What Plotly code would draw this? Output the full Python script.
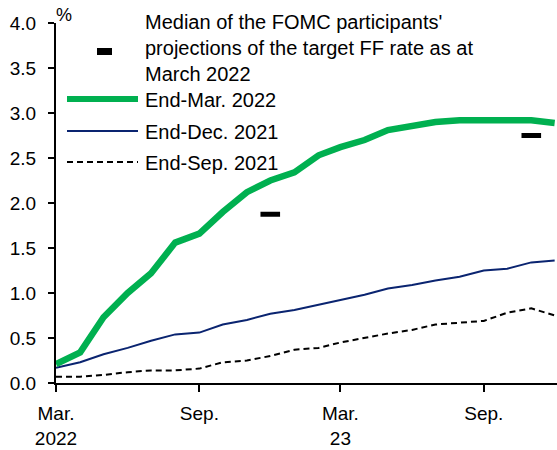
import plotly.graph_objects as go

# ---- data ----
months = ["2022-03-01", "2022-04-01", "2022-05-01", "2022-06-01", "2022-07-01", "2022-08-01",
          "2022-09-01", "2022-10-01", "2022-11-01", "2022-12-01", "2023-01-01", "2023-02-01",
          "2023-03-01", "2023-04-01", "2023-05-01", "2023-06-01", "2023-07-01", "2023-08-01",
          "2023-09-01", "2023-10-01", "2023-11-01", "2023-12-01"]
end_mar_2022 = [0.21, 0.34, 0.73, 1.00, 1.22, 1.56, 1.66, 1.90, 2.12, 2.25, 2.34, 2.53,
                2.62, 2.70, 2.81, 2.86, 2.90, 2.92, 2.92, 2.92, 2.92, 2.89]
end_dec_2021 = [0.17, 0.23, 0.32, 0.39, 0.47, 0.54, 0.56, 0.65, 0.70, 0.77, 0.81, 0.87,
                0.92, 0.98, 1.05, 1.09, 1.14, 1.18, 1.25, 1.27, 1.34, 1.36]
end_sep_2021 = [0.07, 0.07, 0.09, 0.12, 0.14, 0.14, 0.16, 0.23, 0.25, 0.30, 0.37, 0.39,
                0.45, 0.50, 0.55, 0.59, 0.65, 0.67, 0.69, 0.78, 0.83, 0.75]
median_dates = ["2022-12-01", "2023-11-01"]
median_values = [1.875, 2.75]

tick_dates = ["2022-03-01", "2022-09-01", "2023-03-01", "2023-09-01"]
tick_labels = ["Mar.<br>2022", "Sep.", "Mar.<br>23", "Sep."]
y_ticks = [0.0, 0.5, 1.0, 1.5, 2.0, 2.5, 3.0, 3.5, 4.0]

legend_median = "Median of the FOMC participants'<br>projections of the target FF rate as at<br>March 2022"
name_mar = "End-Mar. 2022"
name_dec = "End-Dec. 2021"
name_sep = "End-Sep. 2021"

GREEN = "#00b050"
NAVY = "#0a2470"
FONT = "Liberation Sans, Arial, sans-serif"

W, H = 557, 450
ML, MR, MT, MB = 56, 0, 23, 67
PW, PH = W - ML - MR, H - MT - MB


def px(x):
    return (x - ML) / PW


def py(y):
    return (H - MB - y) / PH


fig = go.Figure()
fig.add_trace(go.Scatter(x=months, y=end_sep_2021, mode="lines", name=name_sep,
                         line=dict(color="black", width=2, dash="6px,4px")))
fig.add_trace(go.Scatter(x=months, y=end_dec_2021, mode="lines", name=name_dec,
                         line=dict(color=NAVY, width=2)))
fig.add_trace(go.Scatter(x=months, y=end_mar_2022, mode="lines", name=name_mar,
                         line=dict(color=GREEN, width=6.5)))
fig.add_trace(go.Scatter(x=median_dates, y=median_values, mode="markers", name="Median",
                         marker=dict(symbol="line-ew", size=14,
                                     line=dict(color="black", width=5))))

# ---- legend (drawn manually) ----
shapes = []
annotations = []
shapes.append(dict(type="rect", xref="paper", yref="paper",
                   x0=px(97), x1=px(112), y0=py(55), y1=py(48),
                   fillcolor="black", line=dict(width=0)))
annotations.append(dict(xref="paper", yref="paper", x=px(143), y=py(48),
                        xanchor="left", yanchor="middle", align="left",
                        text=legend_median, showarrow=False,
                        font=dict(size=20, color="black", family=FONT)))
rows = [(name_mar, 99, dict(color=GREEN, width=6)),
        (name_dec, 131, dict(color=NAVY, width=2)),
        (name_sep, 162, dict(color="black", width=2, dash="6px,4px"))]
for label, yy, ln in rows:
    shapes.append(dict(type="line", xref="paper", yref="paper",
                       x0=px(67), x1=px(138), y0=py(yy), y1=py(yy), line=ln))
    annotations.append(dict(xref="paper", yref="paper", x=px(143), y=py(yy + 1),
                            xanchor="left", yanchor="middle", text=label,
                            showarrow=False,
                            font=dict(size=20, color="black", family=FONT)))
annotations.append(dict(xref="paper", yref="paper", x=px(54), y=py(15),
                        xanchor="left", yanchor="middle", text="%", showarrow=False,
                        font=dict(size=18, color="black", family=FONT)))

fig.update_layout(
    width=W, height=H,
    margin=dict(l=ML, r=MR, t=MT, b=MB, pad=0),
    paper_bgcolor="white", plot_bgcolor="white",
    showlegend=False,
    font=dict(family=FONT, size=19, color="black"),
    shapes=shapes, annotations=annotations,
    xaxis=dict(type="date", range=["2022-03-01", "2023-12-04"],
               tickmode="array", tickvals=tick_dates, ticktext=tick_labels,
               ticks="outside", ticklen=7, tickwidth=2, tickcolor="black",
               showline=True, linecolor="black", linewidth=2,
               showgrid=False, zeroline=False, ticklabelstandoff=5,
               tickfont=dict(size=19, family=FONT, color="black")),
    yaxis=dict(range=[0, 4], tickmode="array", tickvals=y_ticks,
               tickformat=".1f",
               ticks="outside", ticklen=6, tickwidth=2, tickcolor="black",
               showline=True, linecolor="black", linewidth=2,
               showgrid=False, zeroline=False, ticklabelstandoff=8,
               tickfont=dict(size=19, family=FONT, color="black")),
)

fig.write_html("out.html",
               config={"displayModeBar": False, "staticPlot": True},
               post_script="document.body.style.margin='0';document.body.style.overflow='hidden';")
